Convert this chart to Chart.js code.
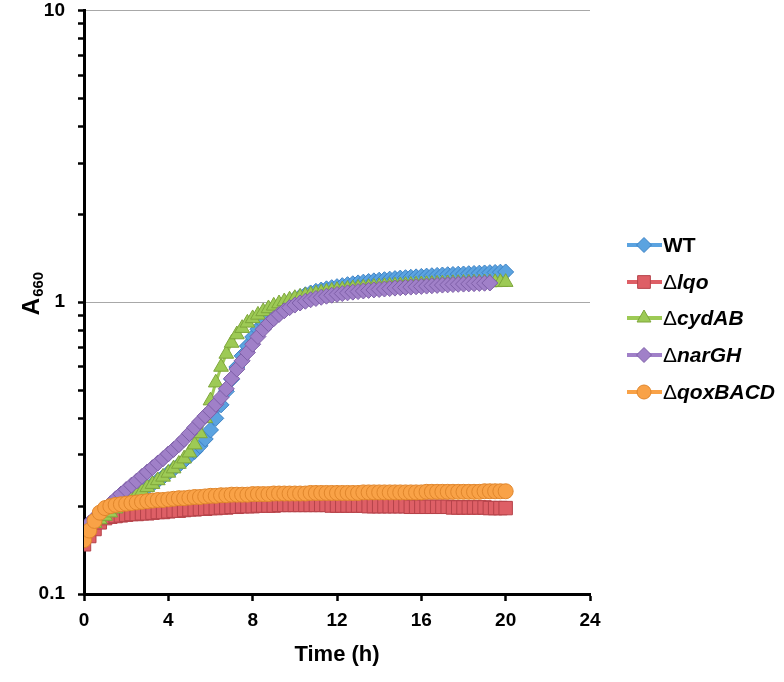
<!DOCTYPE html>
<html>
<head>
<meta charset="utf-8">
<script src="https://cdn.jsdelivr.net/npm/chart.js@4.4.1/dist/chart.umd.min.js"></script>
<style>
html, body { margin: 0; padding: 0; background: #fff; }
canvas { display: block; }
</style>
</head>
<body>
<canvas id="growth" width="784" height="682"></canvas>
<script>
// sampling times (h)
var hours = [
  0, 0.25, 0.5, 0.75, 1, 1.25, 1.5, 1.75, 2, 2.25, 2.5, 2.75,
  3, 3.25, 3.5, 3.75, 4, 4.25, 4.5, 4.75, 5, 5.25, 5.5, 5.75,
  6, 6.25, 6.5, 6.75, 7, 7.25, 7.5, 7.75, 8, 8.25, 8.5, 8.75,
  9, 9.25, 9.5, 9.75, 10, 10.25, 10.5, 10.75, 11, 11.25, 11.5, 11.75,
  12, 12.25, 12.5, 12.75, 13, 13.25, 13.5, 13.75, 14, 14.25, 14.5, 14.75,
  15, 15.25, 15.5, 15.75, 16, 16.25, 16.5, 16.75, 17, 17.25, 17.5, 17.75,
  18, 18.25, 18.5, 18.75, 19, 19.25, 19.5, 19.75, 20
];

// A660 values, one row per hour
var wt = [
  0.165, 0.170, 0.175, 0.180,
  0.185, 0.190, 0.196, 0.201,
  0.207, 0.213, 0.219, 0.225,
  0.232, 0.238, 0.245, 0.252,
  0.260, 0.268, 0.277, 0.286,
  0.297, 0.308, 0.322, 0.340,
  0.365, 0.400, 0.445, 0.495,
  0.545, 0.600, 0.655, 0.708,
  0.760, 0.808, 0.852, 0.892,
  0.928, 0.958, 0.985, 1.008,
  1.028, 1.045, 1.061, 1.076,
  1.090, 1.101, 1.112, 1.122,
  1.131, 1.140, 1.149, 1.157,
  1.165, 1.172, 1.178, 1.184,
  1.190, 1.195, 1.200, 1.205,
  1.210, 1.214, 1.218, 1.222,
  1.226, 1.229, 1.233, 1.236,
  1.240, 1.243, 1.245, 1.248,
  1.250, 1.253, 1.255, 1.258,
  1.260, 1.263, 1.265, 1.268,
  1.270
];

var lqo = [
  0.148, 0.158, 0.167, 0.176,
  0.182, 0.184, 0.185, 0.186,
  0.187, 0.188, 0.188, 0.189,
  0.189, 0.190, 0.191, 0.191,
  0.192, 0.193, 0.193, 0.194,
  0.195, 0.195, 0.196, 0.196,
  0.197, 0.197, 0.198, 0.198,
  0.199, 0.199, 0.200, 0.200,
  0.200, 0.201, 0.201, 0.201,
  0.201, 0.202, 0.202, 0.202,
  0.202, 0.202, 0.202, 0.202,
  0.202, 0.202, 0.202, 0.201,
  0.201, 0.201, 0.201, 0.201,
  0.201, 0.201, 0.200, 0.200,
  0.200, 0.200, 0.200, 0.200,
  0.200, 0.200, 0.199, 0.199,
  0.199, 0.199, 0.199, 0.199,
  0.199, 0.199, 0.198, 0.198,
  0.198, 0.198, 0.198, 0.198,
  0.198, 0.197, 0.197, 0.197,
  0.197
];

var cydAB = [
  0.165, 0.170, 0.175, 0.180,
  0.185, 0.190, 0.196, 0.201,
  0.207, 0.213, 0.219, 0.225,
  0.232, 0.238, 0.245, 0.252,
  0.260, 0.269, 0.279, 0.291,
  0.305, 0.325, 0.355, 0.400,
  0.460, 0.530, 0.600, 0.665,
  0.725, 0.775, 0.815, 0.850,
  0.880, 0.905, 0.930, 0.952,
  0.972, 0.990, 1.006, 1.020,
  1.032, 1.043, 1.053, 1.062,
  1.070, 1.078, 1.086, 1.093,
  1.100, 1.105, 1.110, 1.114,
  1.118, 1.122, 1.125, 1.128,
  1.131, 1.134, 1.137, 1.140,
  1.142, 1.144, 1.146, 1.148,
  1.150, 1.152, 1.154, 1.156,
  1.158, 1.160, 1.161, 1.162,
  1.164, 1.165, 1.166, 1.167,
  1.168, 1.169, 1.170, 1.171,
  1.172
];

var narGH = [
  0.168, 0.175, 0.182, 0.189,
  0.197, 0.204, 0.212, 0.220,
  0.228, 0.236, 0.244, 0.253,
  0.262, 0.271, 0.281, 0.291,
  0.302, 0.313, 0.325, 0.339,
  0.355, 0.372, 0.390, 0.408,
  0.425, 0.447, 0.472, 0.505,
  0.548, 0.590, 0.630, 0.673,
  0.718, 0.763, 0.808, 0.845,
  0.878, 0.908, 0.935, 0.958,
  0.978, 0.994, 1.008, 1.020,
  1.030, 1.040, 1.049, 1.057,
  1.064, 1.071, 1.077, 1.083,
  1.088, 1.093, 1.098, 1.102,
  1.106, 1.110, 1.114, 1.118,
  1.121, 1.124, 1.127, 1.130,
  1.133, 1.136, 1.139, 1.142,
  1.145, 1.147, 1.150, 1.152,
  1.154, 1.156, 1.158, 1.160,
  1.162, 1.164
];

var qoxBACD = [
  0.153, 0.165, 0.178, 0.190,
  0.197, 0.200, 0.202, 0.203,
  0.204, 0.205, 0.206, 0.207,
  0.208, 0.209, 0.210, 0.210,
  0.211, 0.212, 0.213, 0.213,
  0.214, 0.215, 0.215, 0.216,
  0.217, 0.217, 0.218, 0.218,
  0.219, 0.219, 0.219, 0.219,
  0.220, 0.220, 0.220, 0.220,
  0.221, 0.221, 0.221, 0.221,
  0.221, 0.221, 0.221, 0.222,
  0.222, 0.222, 0.222, 0.222,
  0.222, 0.222, 0.222, 0.222,
  0.222, 0.223, 0.223, 0.223,
  0.223, 0.223, 0.223, 0.223,
  0.223, 0.223, 0.223, 0.223,
  0.223, 0.224, 0.224, 0.224,
  0.224, 0.224, 0.224, 0.224,
  0.224, 0.224, 0.224, 0.224,
  0.225, 0.225, 0.225, 0.225,
  0.225
];

var seriesNames = ['WT', '\u0394lqo', '\u0394cydAB', '\u0394narGH', '\u0394qoxBACD'];
var yTickValues = [0.1, 0.2, 0.3, 0.4, 0.5, 0.6, 0.7, 0.8, 0.9, 1, 2, 3, 4, 5, 6, 7, 8, 9, 10];
var yTickLabels = ['0.1', '1', '10'];

var family = '"Liberation Sans", Arial, Helvetica, sans-serif';
Chart.defaults.font.family = family;
Chart.defaults.color = '#000';

// legend with upright delta + bold italic gene names, and the A660 axis title
var extras = {
  id: 'extras',
  afterDraw: function(chart) {
    var ctx = chart.ctx;
    ctx.save();
    ctx.fillStyle = '#000';
    ctx.translate(31, 294);
    ctx.rotate(-Math.PI / 2);
    ctx.textBaseline = 'alphabetic';
    ctx.font = 'bold 24px ' + family;
    var wA = ctx.measureText('A').width;
    ctx.font = 'bold 15px ' + family;
    var wS = ctx.measureText('660').width;
    var x0 = -(wA + wS) / 2;
    ctx.font = 'bold 24px ' + family;
    ctx.fillText('A', x0, 8);
    ctx.font = 'bold 15px ' + family;
    ctx.fillText('660', x0 + wA + 1, 12);
    ctx.restore();

    var rows = [245, 282, 318, 355, 392];
    chart.data.datasets.forEach(function(ds, i) {
      var y = rows[i];
      ctx.save();
      ctx.strokeStyle = ds.borderColor;
      ctx.lineWidth = 4;
      ctx.beginPath();
      ctx.moveTo(627, y);
      ctx.lineTo(662, y);
      ctx.stroke();
      ctx.fillStyle = ds.pointBackgroundColor;
      ctx.strokeStyle = ds.pointBorderColor;
      ctx.lineWidth = 1;
      Chart.helpers.drawPoint(ctx, {
        pointStyle: ds.pointStyle, radius: ds.pointRadius - 0.5, borderWidth: 1, rotation: 0
      }, 644, y);
      ctx.fillStyle = '#000';
      ctx.textBaseline = 'middle';
      var label = ds.label;
      var x = 663;
      if (label.charAt(0) === '\u0394') {
        ctx.font = '21px ' + family;
        ctx.fillText('\u0394', x, y + 1);
        x += ctx.measureText('\u0394').width;
        label = label.slice(1);
        ctx.font = 'italic bold 21px ' + family;
      } else {
        ctx.font = 'bold 21px ' + family;
      }
      ctx.fillText(label, x, y + 1);
      ctx.restore();
    });
  }
};

function series(label, data, fill, edge, style, radius, order) {
  return {
    label: label,
    data: data,
    borderColor: fill,
    borderWidth: 3,
    backgroundColor: fill,
    pointStyle: style,
    pointRadius: radius,
    pointBackgroundColor: fill,
    pointBorderColor: edge,
    pointBorderWidth: 1,
    tension: 0,
    order: order
  };
}

new Chart(document.getElementById('growth'), {
  type: 'line',
  data: {
    labels: hours,
    datasets: [
      series(seriesNames[0], wt, '#5ba3e0', '#3d82c4', 'rectRot', 8, 5),
      series(seriesNames[1], lqo, '#de5f66', '#b5434a', 'rect', 9.5, 4),
      series(seriesNames[2], cydAB, '#9dca55', '#7ea63b', 'triangle', 8.5, 3),
      series(seriesNames[3], narGH, '#a080c8', '#7e5fa8', 'rectRot', 8, 2),
      series(seriesNames[4], qoxBACD, '#f9a247', '#e0862c', 'circle', 7.5, 1)
    ]
  },
  options: {
    responsive: false,
    animation: false,
    layout: { padding: { left: 0, right: 194, top: 10, bottom: 0 } },
    plugins: {
      legend: { display: false },
      tooltip: { enabled: false }
    },
    scales: {
      x: {
        type: 'linear',
        min: 0,
        max: 24,
        ticks: { stepSize: 4, font: { size: 19, weight: 'bold' }, padding: 8, color: '#000' },
        grid: { drawOnChartArea: false, drawTicks: true, tickLength: 7, tickColor: '#000', tickWidth: 2.5 },
        border: { display: true, color: '#000', width: 3 },
        title: { display: true, text: 'Time (h)', font: { size: 22, weight: 'bold' }, color: '#000', padding: { top: 0, bottom: 14 } },
        afterFit: function(scale) {
          scale.height = 88;
          scale.paddingLeft = 0;
          scale.paddingRight = 0;
        }
      },
      y: {
        type: 'logarithmic',
        min: 0.1,
        max: 10,
        afterBuildTicks: function(scale) {
          scale.ticks = yTickValues.map(function(v) { return { value: v }; });
        },
        ticks: {
          autoSkip: false,
          font: { size: 19, weight: 'bold' },
          padding: 13,
          color: '#000',
          callback: function(v) {
            for (var i = 0; i < yTickLabels.length; i++) {
              if (Math.abs(v - parseFloat(yTickLabels[i])) < 1e-9) return yTickLabels[i];
            }
            return '';
          }
        },
        grid: {
          drawOnChartArea: true,
          drawTicks: true,
          tickLength: 6,
          tickWidth: 2.5,
          tickColor: '#000',
          lineWidth: 1,
          color: function(c) {
            var v = c.tick ? c.tick.value : null;
            return (v === 1 || v === 10) ? '#a8a8a8' : 'rgba(0,0,0,0)';
          }
        },
        border: { display: true, color: '#000', width: 3 },
        afterFit: function(scale) {
          scale.width = 84;
          scale.paddingTop = 0;
          scale.paddingBottom = 0;
        }
      }
    }
  },
  plugins: [extras]
});
</script>
</body>
</html>
